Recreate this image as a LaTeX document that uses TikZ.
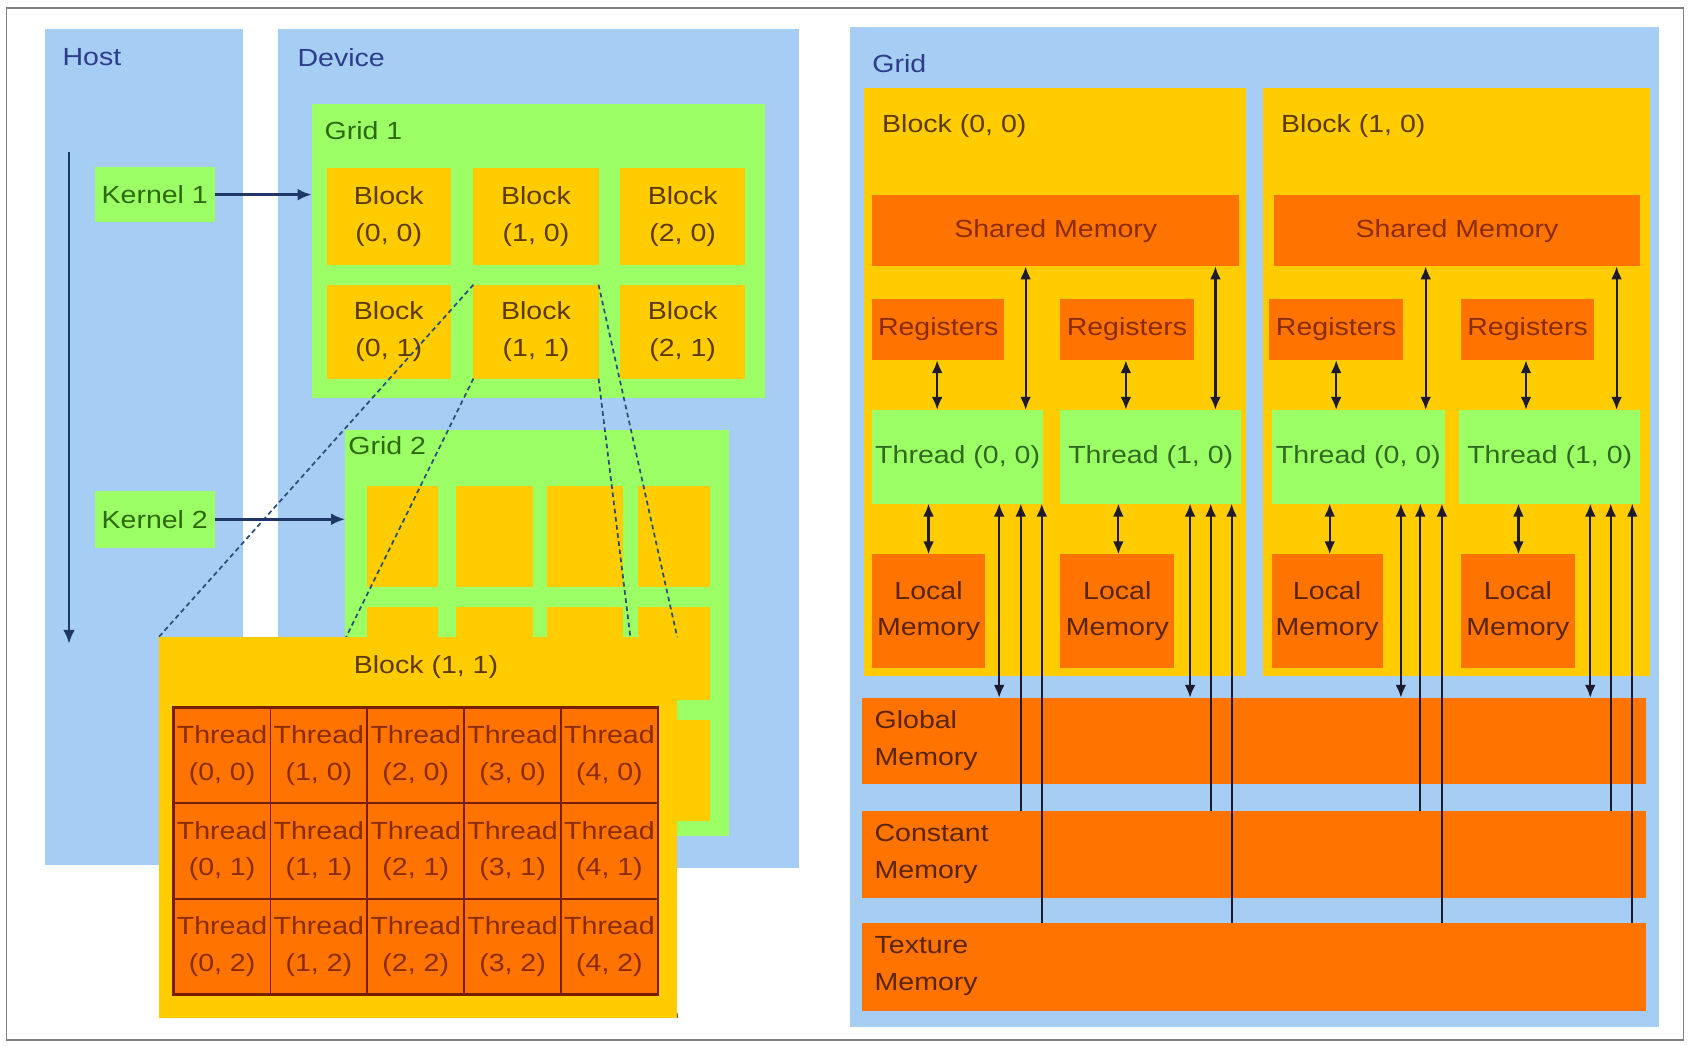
\documentclass[tikz,border=0pt]{standalone}
\usepackage{fontspec}
\setmainfont{Liberation Sans}[FakeStretch=1.15]
\usetikzlibrary{arrows.meta}
\definecolor{lblue}{HTML}{A6CDF4}
\definecolor{lgreen}{HTML}{9CFF66}
\definecolor{yel}{HTML}{FFCC00}
\definecolor{org}{HTML}{FF7300}
\definecolor{dred}{HTML}{7A1E00}
\definecolor{navy}{HTML}{1F3868}
\definecolor{arrc}{HTML}{1E1A2E}
\definecolor{bluetxt}{HTML}{2E3C8C}
\definecolor{greentxt}{HTML}{2C6A0C}
\definecolor{blocktxt}{HTML}{5C3A00}
\definecolor{threadtxt}{HTML}{2F6A20}
\definecolor{regtxt}{HTML}{8A2C00}
\definecolor{memtxt}{HTML}{5A2400}
\definecolor{celltxt}{HTML}{8A2C00}
\definecolor{dshc}{HTML}{2A4E78}
\newcommand\figfont{\fontsize{11.5}{17}\selectfont}
% name, x1, y1, x2, y2, style, text
\newcommand\drawbox[7]{%
  \node[#6, anchor=north west, minimum width={(#4-#2)*0.5pt}, minimum height={(#5-#3)*0.5pt}] (#1) at (#2,#3) {#7};}
\begin{document}
\begin{tikzpicture}[x=0.5pt,y=-0.5pt,
  every node/.style={inner sep=0pt, outer sep=0pt, font=\figfont},
  box/.style={rectangle, draw=none, align=center},
  pnl/.style={box, fill=lblue},
  grn/.style={box, fill=lgreen},
  yb/.style={box, fill=yel},
  mem/.style={box, fill=org},
  cell/.style={rectangle, fill=org, draw=dred, line width=0.8pt, align=center, text=celltxt},
  lbl/.style={anchor=west},
  arr/.style={line width=1pt, draw=arrc, -{Latex[length=6pt,width=5pt]}},
  darr/.style={line width=1pt, draw=arrc, {Latex[length=6pt,width=5pt]}-{Latex[length=6pt,width=5pt]}},
  karr/.style={line width=1.2pt, draw=navy, -{Latex[length=6.5pt,width=5.5pt]}},
  dsh/.style={draw=dshc, line width=0.8pt, dash pattern=on 2.2pt off 1.6pt}
]
\useasboundingbox (0,0) rectangle (1568,969);
\fill[white] (0,0) rectangle (1568,969);
\draw[gray, line width=0.9pt] (6,7) rectangle (1561,964);

% ---------- left part ----------
\drawbox{host}{42}{27}{225}{802}{pnl}{}
\drawbox{dev}{258}{27}{741}{805}{pnl}{}
\node[lbl, text=bluetxt] (hostlbl) at (58,53) {Host};
\node[lbl, text=bluetxt] (devlbl) at (276,53) {Device};
\drawbox{k1}{88}{155}{199}{206}{grn, text=greentxt}{Kernel 1}
\drawbox{k2}{88}{455}{199}{508}{grn, text=greentxt}{Kernel 2}

\drawbox{g1}{289}{96}{709}{369}{grn}{}
\node[lbl, text=greentxt] (g1lbl) at (301,121) {Grid 1};
\foreach \c/\xa/\xb in {0/303/418, 1/439/555, 2/575/691}{
  \foreach \r/\ya/\yb in {0/156/246, 1/264/351}{
    \drawbox{b\c\r}{\xa}{\ya}{\xb}{\yb}{yb, text=blocktxt}{Block\\(\c, \r)}
  }
}

\drawbox{g2}{320}{399}{676}{775}{grn}{}
\node[lbl, text=greentxt] (g2lbl) at (323,413) {Grid 2};
\foreach \c/\xa/\xb in {0/340/406, 1/423/494, 2/507/578, 3/592/658}{
  \foreach \r/\ya/\yb in {0/451/544, 1/563/649, 2/668/761}{
    \drawbox{gb\c\r}{\xa}{\ya}{\xb}{\yb}{yb}{}
  }
}

\coordinate (hs) at (64,141);
\coordinate (he) at (64,597);
\draw[karr] (hs) -- (he);

% dashed zoom lines (behind the enlarged block)
\draw[dsh] (b11.north west) -- (147,591) coordinate (ebnw);
\draw[dsh] (b11.south west) -- (147,944) coordinate (ebsw);
\draw[dsh] (b11.north east) -- (628,591) coordinate (ebne);
\draw[dsh] (b11.south east) -- (628,944) coordinate (ebse);

\draw[karr] (k1.east) -- (g1.west |- k1.east);
\draw[karr] (k2.east) -- (g2.west |- k2.east);

% enlarged block
\drawbox{eb}{147}{591}{628}{944}{yb}{}
\node[text=blocktxt] (eblbl) at (395,619) {Block (1, 1)};
\foreach \c in {0,...,4}{
  \foreach \r in {0,1,2}{
    \pgfmathsetmacro\xa{161+\c*89.8}
    \pgfmathsetmacro\xb{\xa+89.8}
    \pgfmathsetmacro\ya{656+\r*88.7}
    \pgfmathsetmacro\yb{\ya+88.7}
    \drawbox{tc\c\r}{\xa}{\ya}{\xb}{\yb}{cell}{Thread\\(\c, \r)}
  }
}
\draw[dred, line width=1.2pt] (tc00.north west) rectangle (tc42.south east);

% ---------- right part ----------
\drawbox{grid}{788}{25}{1538}{952}{pnl}{}
\node[lbl, text=bluetxt] (gridlbl) at (809,59) {Grid};
\drawbox{blk0}{801}{82}{1155}{627}{yb}{}
\drawbox{blk1}{1171}{82}{1530}{627}{yb}{}
\node[lbl, text=blocktxt] (blk0lbl) at (818,117) {Block (0, 0)};
\node[lbl, text=blocktxt] (blk1lbl) at (1188,117) {Block (1, 0)};
\drawbox{sm0}{809}{181}{1149}{247}{mem, text=regtxt}{Shared Memory}
\drawbox{sm1}{1181}{181}{1521}{247}{mem, text=regtxt}{Shared Memory}

\drawbox{reg0}{809}{277}{931}{334}{mem, text=regtxt}{Registers}
\drawbox{reg1}{983}{277}{1107}{334}{mem, text=regtxt}{Registers}
\drawbox{reg2}{1177}{277}{1301}{334}{mem, text=regtxt}{Registers}
\drawbox{reg3}{1355}{277}{1478}{334}{mem, text=regtxt}{Registers}

\drawbox{th0}{809}{380}{967}{467}{grn, text=threadtxt}{Thread (0, 0)}
\drawbox{th1}{983}{380}{1151}{467}{grn, text=threadtxt}{Thread (1, 0)}
\drawbox{th2}{1179}{380}{1340}{467}{grn, text=threadtxt}{Thread (0, 0)}
\drawbox{th3}{1353}{380}{1521}{467}{grn, text=threadtxt}{Thread (1, 0)}

\drawbox{lm0}{809}{514}{913}{619}{mem, text=memtxt}{Local\\Memory}
\drawbox{lm1}{983}{514}{1089}{619}{mem, text=memtxt}{Local\\Memory}
\drawbox{lm2}{1179}{514}{1282}{619}{mem, text=memtxt}{Local\\Memory}
\drawbox{lm3}{1355}{514}{1460}{619}{mem, text=memtxt}{Local\\Memory}

\drawbox{gm}{799}{647}{1526}{727}{mem}{}
\drawbox{cm}{799}{752}{1526}{833}{mem}{}
\drawbox{tm}{799}{856}{1526}{937}{mem}{}
\node[lbl, align=left, text=memtxt] (gmlbl) at (811,687) {Global\\Memory};
\node[lbl, align=left, text=memtxt] (cmlbl) at (811,792) {Constant\\Memory};
\node[lbl, align=left, text=memtxt] (tmlbl) at (811,896) {Texture\\Memory};

\foreach \i/\rx/\sx/\lx/\gx/\cx/\tx in {0/869/951/861/926.5/946.5/966, 1/1044/1127/1037/1103.5/1122.6/1142, 2/1239/1322/1233/1299/1317/1337, 3/1415/1499/1408/1474.6/1493.5/1513.5}{
  \pgfmathtruncatemacro\s{\i/2}
  \coordinate (rx\i) at (\rx,0);
  \coordinate (sx\i) at (\sx,0);
  \coordinate (lx\i) at (\lx,0);
  \coordinate (gx\i) at (\gx,0);
  \coordinate (cx\i) at (\cx,0);
  \coordinate (tx\i) at (\tx,0);
  \draw[darr] (reg\i.south -| rx\i) -- (th\i.north -| rx\i);
  \draw[darr] (sm\s.south -| sx\i) -- (th\i.north -| sx\i);
  \draw[darr] (th\i.south -| lx\i) -- (lm\i.north -| lx\i);
  \draw[darr] (th\i.south -| gx\i) -- (gm.north -| gx\i);
  \draw[arr] (cm.north -| cx\i) -- (th\i.south -| cx\i);
  \draw[arr] (tm.north -| tx\i) -- (th\i.south -| tx\i);
}
\end{tikzpicture}
\end{document}
